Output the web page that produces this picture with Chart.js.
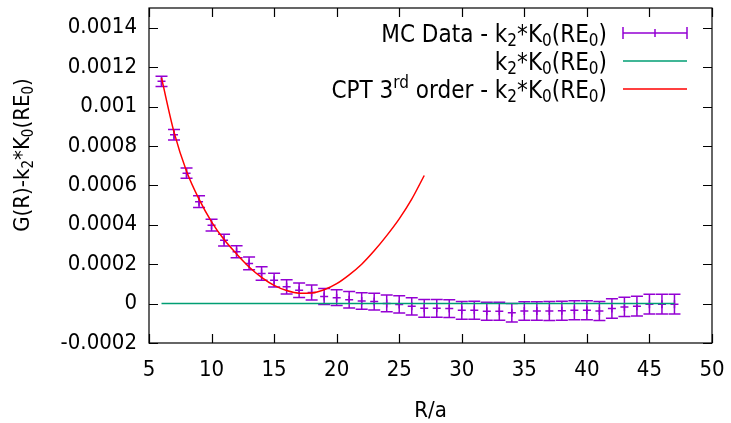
<!DOCTYPE html>
<html>
<head>
<meta charset="utf-8">
<title>G(R) - k2*K0(RE0)</title>
<script src="https://cdn.jsdelivr.net/npm/chart.js@4.4.0/dist/chart.umd.min.js"></script>
<style>
  html, body { margin: 0; padding: 0; background: #fff; }
  #wrap { width: 731px; height: 423px; }
</style>
</head>
<body>
<div id="wrap"><canvas id="graph"></canvas></div>
<script>
// MC data (points + error bars)
var rValues = [6, 7, 8, 9, 10, 11, 12, 13, 14, 15, 16, 17, 18, 19, 20, 21, 22, 23, 24, 25, 26,
               27, 28, 29, 30, 31, 32, 33, 34, 35, 36, 37, 38, 39, 40, 41, 42, 43, 44, 45, 46, 47];
var mcValues = [0.001128, 0.000857, 0.000662, 0.000517, 0.000398, 0.000322, 0.000263, 0.000204,
                0.000153, 0.000119, 0.000085, 0.000068, 0.000056, 0.000036, 0.000030, 0.000019,
                0.000013, 0.000010, 0.000001, -0.000004, -0.000014, -0.000024, -0.000024, -0.000025,
                -0.000034, -0.000034, -0.000039, -0.000039, -0.000046, -0.000038, -0.000038, -0.000038,
                -0.000036, -0.000034, -0.000034, -0.000038, -0.000025, -0.000017, -0.000013, -0.000003,
                -0.000003, -0.000003];
var mcErrors = [0.000026, 0.000027, 0.000026, 0.000030, 0.000030, 0.000030, 0.000031, 0.000032,
                0.000034, 0.000035, 0.000036, 0.000037, 0.000038, 0.000040, 0.000040, 0.000042,
                0.000042, 0.000043, 0.000043, 0.000044, 0.000044, 0.000045, 0.000045, 0.000045,
                0.000045, 0.000046, 0.000046, 0.000046, 0.000047, 0.000047, 0.000047, 0.000048,
                0.000048, 0.000048, 0.000048, 0.000048, 0.000049, 0.000049, 0.000050, 0.000050,
                0.000050, 0.000050];

// k2*K0(RE0) minus itself
var zeroR = [6, 47];
var zeroValues = [0, 0];

// CPT 3rd order
var cptR = [6, 7, 8, 9, 10, 11, 12, 13, 14, 15, 16, 17, 18, 19, 20, 21, 22, 23, 24, 25, 26, 27];
var cptValues = [0.001145, 0.000870, 0.000672, 0.000530, 0.000415, 0.000325, 0.000252, 0.000186,
                 0.000133, 0.000092, 0.000066, 0.000053, 0.000054, 0.000070, 0.000101, 0.000146,
                 0.000200, 0.000268, 0.000345, 0.000430, 0.000530, 0.000650];

var xTicks = [5, 10, 15, 20, 25, 30, 35, 40, 45, 50];
var yTicks = [-0.0002, 0, 0.0002, 0.0004, 0.0006, 0.0008, 0.001, 0.0012, 0.0014];

var FONT = '"DejaVu Sans Condensed", "DejaVu Sans", sans-serif';
var FSIZE = 22;
var PURPLE = '#9400d3';
var GREEN = '#009e73';
var RED = '#ff0000';

function pts(xs, ys) {
  return xs.map(function(x, i) { return {x: x, y: ys[i]}; });
}

// text with sub/superscripts: parts = [[text, 'n'|'sub'|'sup'], ...]
function drawRich(ctx, parts, x, y, align, size) {
  size = size || FSIZE;
  var small = Math.round(size * 0.7);
  var total = 0;
  parts.forEach(function(p) {
    ctx.font = (p[1] == 'n' ? size : small) + 'px ' + FONT;
    total += ctx.measureText(p[0]).width;
  });
  var cx = x;
  if (align == 'right') cx = x - total;
  if (align == 'center') cx = x - total / 2;
  ctx.textAlign = 'left';
  ctx.textBaseline = 'alphabetic';
  ctx.fillStyle = '#000';
  parts.forEach(function(p) {
    ctx.font = (p[1] == 'n' ? size : small) + 'px ' + FONT;
    var dy = 0;
    if (p[1] == 'sub') dy = size * 0.2;
    if (p[1] == 'sup') dy = -size * 0.38;
    ctx.fillText(p[0], cx, y + dy);
    cx += ctx.measureText(p[0]).width;
  });
}

var kPart = [['k', 'n'], ['2', 'sub'], ['*K', 'n'], ['0', 'sub'], ['(RE', 'n'], ['0', 'sub'], [')', 'n']];
var legendRows = [
  {parts: [['MC Data - ', 'n']].concat(kPart), kind: 'err', color: PURPLE},
  {parts: kPart, kind: 'line', color: GREEN},
  {parts: [['CPT 3', 'n'], ['rd', 'sup'], [' order - ', 'n']].concat(kPart), kind: 'line', color: RED}
];
var yTitle = [['G(R)-', 'n']].concat(kPart);

var errorBars = {
  id: 'errorBars',
  beforeDatasetsDraw: function(chart) {
    var ctx = chart.ctx;
    var xs = chart.scales.x, ys = chart.scales.y;
    ctx.save();
    ctx.strokeStyle = PURPLE;
    ctx.lineWidth = 1.5;
    rValues.forEach(function(r, i) {
      var px = xs.getPixelForValue(r);
      var top = ys.getPixelForValue(mcValues[i] + mcErrors[i]);
      var bot = ys.getPixelForValue(mcValues[i] - mcErrors[i]);
      ctx.beginPath();
      ctx.moveTo(px, top); ctx.lineTo(px, bot);
      ctx.moveTo(px - 6, top); ctx.lineTo(px + 6, top);
      ctx.moveTo(px - 6, bot); ctx.lineTo(px + 6, bot);
      ctx.stroke();
    });
    ctx.restore();
  }
};

var frame = {
  id: 'frame',
  afterDraw: function(chart) {
    var ctx = chart.ctx;
    var a = chart.chartArea;
    var xs = chart.scales.x, ys = chart.scales.y;
    ctx.save();
    ctx.strokeStyle = '#000';
    ctx.lineWidth = 1.2;
    ctx.strokeRect(a.left, a.top, a.right - a.left, a.bottom - a.top);
    ctx.beginPath();
    xTicks.forEach(function(v) {
      var px = Math.round(xs.getPixelForValue(v)) + 0.5;
      ctx.moveTo(px, a.bottom); ctx.lineTo(px, a.bottom - 9);
      ctx.moveTo(px, a.top); ctx.lineTo(px, a.top + 9);
    });
    yTicks.forEach(function(v) {
      var py = Math.round(ys.getPixelForValue(v)) + 0.5;
      ctx.moveTo(a.left, py); ctx.lineTo(a.left + 9, py);
      ctx.moveTo(a.right, py); ctx.lineTo(a.right - 9, py);
    });
    ctx.stroke();

    // legend
    legendRows.forEach(function(row, i) {
      var base = 41.5 + i * 28;
      var mid = base - 8.5;
      drawRich(ctx, row.parts, 607, base, 'right', 24);
      ctx.strokeStyle = row.color;
      ctx.lineWidth = 1.5;
      ctx.beginPath();
      ctx.moveTo(623, mid); ctx.lineTo(687, mid);
      if (row.kind == 'err') {
        ctx.moveTo(623, mid - 6); ctx.lineTo(623, mid + 6);
        ctx.moveTo(687, mid - 6); ctx.lineTo(687, mid + 6);
        ctx.moveTo(655, mid - 4); ctx.lineTo(655, mid + 4);
      }
      ctx.stroke();
    });

    // axis titles
    drawRich(ctx, [['R/a', 'n']], (a.left + a.right) / 2, 417, 'center');
    ctx.translate(29, 155);
    ctx.rotate(-Math.PI / 2);
    drawRich(ctx, yTitle, 0, 0, 'center');
    ctx.restore();
  }
};

new Chart(document.getElementById('graph'), {
  type: 'scatter',
  data: {
    datasets: [
      {
        label: 'CPT 3rd order - k2*K0(RE0)',
        data: pts(cptR, cptValues),
        showLine: true,
        borderColor: RED,
        borderWidth: 1.5,
        pointRadius: 0,
        cubicInterpolationMode: 'monotone',
        order: 0
      },
      {
        label: 'k2*K0(RE0)',
        data: pts(zeroR, zeroValues),
        showLine: true,
        borderColor: GREEN,
        borderWidth: 1.5,
        pointRadius: 0,
        order: 1
      },
      {
        label: 'MC Data - k2*K0(RE0)',
        data: pts(rValues, mcValues),
        showLine: false,
        pointStyle: 'cross',
        pointRadius: 4,
        borderColor: PURPLE,
        backgroundColor: PURPLE,
        borderWidth: 1.5,
        order: 2
      }
    ]
  },
  options: {
    responsive: true,
    maintainAspectRatio: false,
    animation: false,
    layout: { padding: { left: 0, right: 19, top: 8, bottom: 0 } },
    plugins: { legend: { display: false }, tooltip: { enabled: false } },
    scales: {
      x: {
        type: 'linear',
        min: 5, max: 50,
        afterBuildTicks: function(s) { s.ticks = xTicks.map(function(v) { return {value: v}; }); },
        afterFit: function(s) { s.height = 80; s.paddingLeft = 0; s.paddingRight = 0; },
        grid: { display: false, drawTicks: false },
        border: { display: false },
        ticks: { color: '#000', padding: 14, maxRotation: 0, font: { family: FONT, size: FSIZE } }
      },
      y: {
        type: 'linear',
        min: -0.0002, max: 0.0015,
        afterBuildTicks: function(s) { s.ticks = yTicks.map(function(v) { return {value: v}; }); },
        afterFit: function(s) { s.width = 149; s.paddingTop = 0; s.paddingBottom = 0; },
        grid: { display: false, drawTicks: false },
        border: { display: false },
        ticks: {
          color: '#000', padding: 12, font: { family: FONT, size: FSIZE },
          callback: function(v) { return String(Number(v.toFixed(6))); }
        }
      }
    }
  },
  plugins: [errorBars, frame]
});
</script>
</body>
</html>
